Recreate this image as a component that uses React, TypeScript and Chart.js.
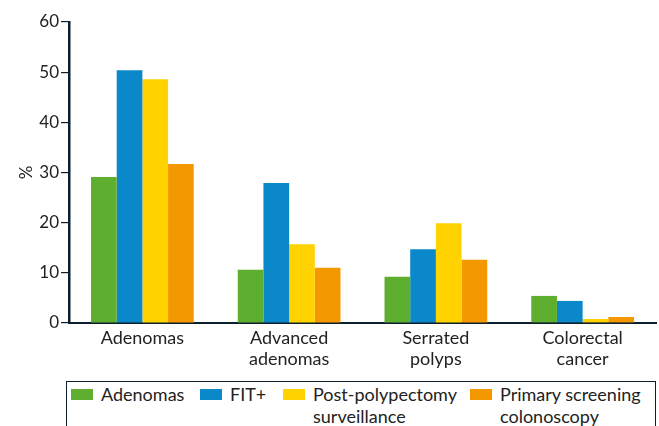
import React, { useEffect, useRef } from "react";
import { Chart, registerables } from "chart.js";

Chart.register(...registerables);

const categories: string[][] = [["Adenomas"], ["Advanced", "adenomas"], ["Serrated", "polyps"], ["Colorectal", "cancer"]];
const seriesNames: string[][] = [["Adenomas"], ["FIT+"], ["Post-polypectomy", "surveillance"], ["Primary screening", "colonoscopy"]];
const seriesColors = ["#5eaf2f", "#0a88c9", "#ffd200", "#f39800"];
const adenomasValues = [29.1, 10.6, 9.2, 5.4];
const fitValues = [50.4, 27.9, 14.7, 4.4];
const postPolypectomyValues = [48.6, 15.7, 19.9, 0.8];
const primaryScreeningValues = [31.7, 11.0, 12.6, 1.2];
const yTicks = [0, 10, 20, 30, 40, 50, 60];

const FONT = "Lato, 'Noto Sans', sans-serif";
const AXIS = "#0d1f2d";
const TEXT = "#222222";

export default function App() {
  const ref = useRef<HTMLCanvasElement>(null);
  useEffect(() => {
    if (!ref.current) return;
    const values = [adenomasValues, fitValues, postPolypectomyValues, primaryScreeningValues];
    const chart = new Chart(ref.current, {
      type: "bar",
      data: {
        labels: categories,
        datasets: seriesNames.map((n, i) => ({
          label: n.join(" "),
          data: values[i],
          backgroundColor: seriesColors[i],
          borderWidth: 0,
          categoryPercentage: 0.7,
          barPercentage: 1.0,
        })),
      },
      options: {
        animation: false,
        responsive: false,
        maintainAspectRatio: false,
        layout: { padding: { left: 16, right: 3, top: 22, bottom: 0 } },
        plugins: { legend: { display: false }, tooltip: { enabled: false } },
        scales: {
          x: {
            grid: { display: false, drawTicks: false },
            border: { display: true, color: AXIS, width: 2 },
            ticks: { color: TEXT, font: { family: FONT, size: 18 }, padding: 4, maxRotation: 0, autoSkip: false },
            afterFit: (s: any) => { s.height = 57; },
          },
          y: {
            min: 0,
            max: 60,
            afterBuildTicks: (s: any) => { s.ticks = yTicks.map((v) => ({ value: v })); },
            grid: { display: true, drawOnChartArea: false, drawTicks: true, tickLength: 8, color: AXIS, lineWidth: 1.2 },
            border: { display: true, color: AXIS, width: 2.5 },
            ticks: { color: TEXT, font: { family: FONT, size: 17 }, padding: 2 },
            title: { display: true, text: "%", color: TEXT, font: { family: FONT, size: 17 }, padding: 0 },
            afterFit: (s: any) => { s.width = 53; },
          },
        },
      },
    });
    return () => chart.destroy();
  }, []);

  const legendLeft = [71, 200, 283, 470];
  return (
    <div style={{ position: "fixed", left: 0, top: 0, width: 659, height: 426, background: "#fff", overflow: "hidden" }}>
      <canvas ref={ref} width={659} height={380} style={{ position: "absolute", left: 0, top: 0 }} />
      <div style={{ position: "absolute", left: 66, top: 381, width: 590, height: 60, border: `1.5px solid ${AXIS}`, boxSizing: "border-box" }} />
      {seriesNames.map((n, i) => (
        <div key={i} style={{ position: "absolute", left: legendLeft[i], top: 383, display: "flex", alignItems: "flex-start", fontFamily: FONT, fontSize: 18, color: TEXT, lineHeight: "22px" }}>
          <div style={{ width: 22, height: 11, background: seriesColors[i], marginTop: 6, marginRight: 8 }} />
          <div>{n.map((line, j) => <div key={j}>{line}</div>)}</div>
        </div>
      ))}
    </div>
  );
}
